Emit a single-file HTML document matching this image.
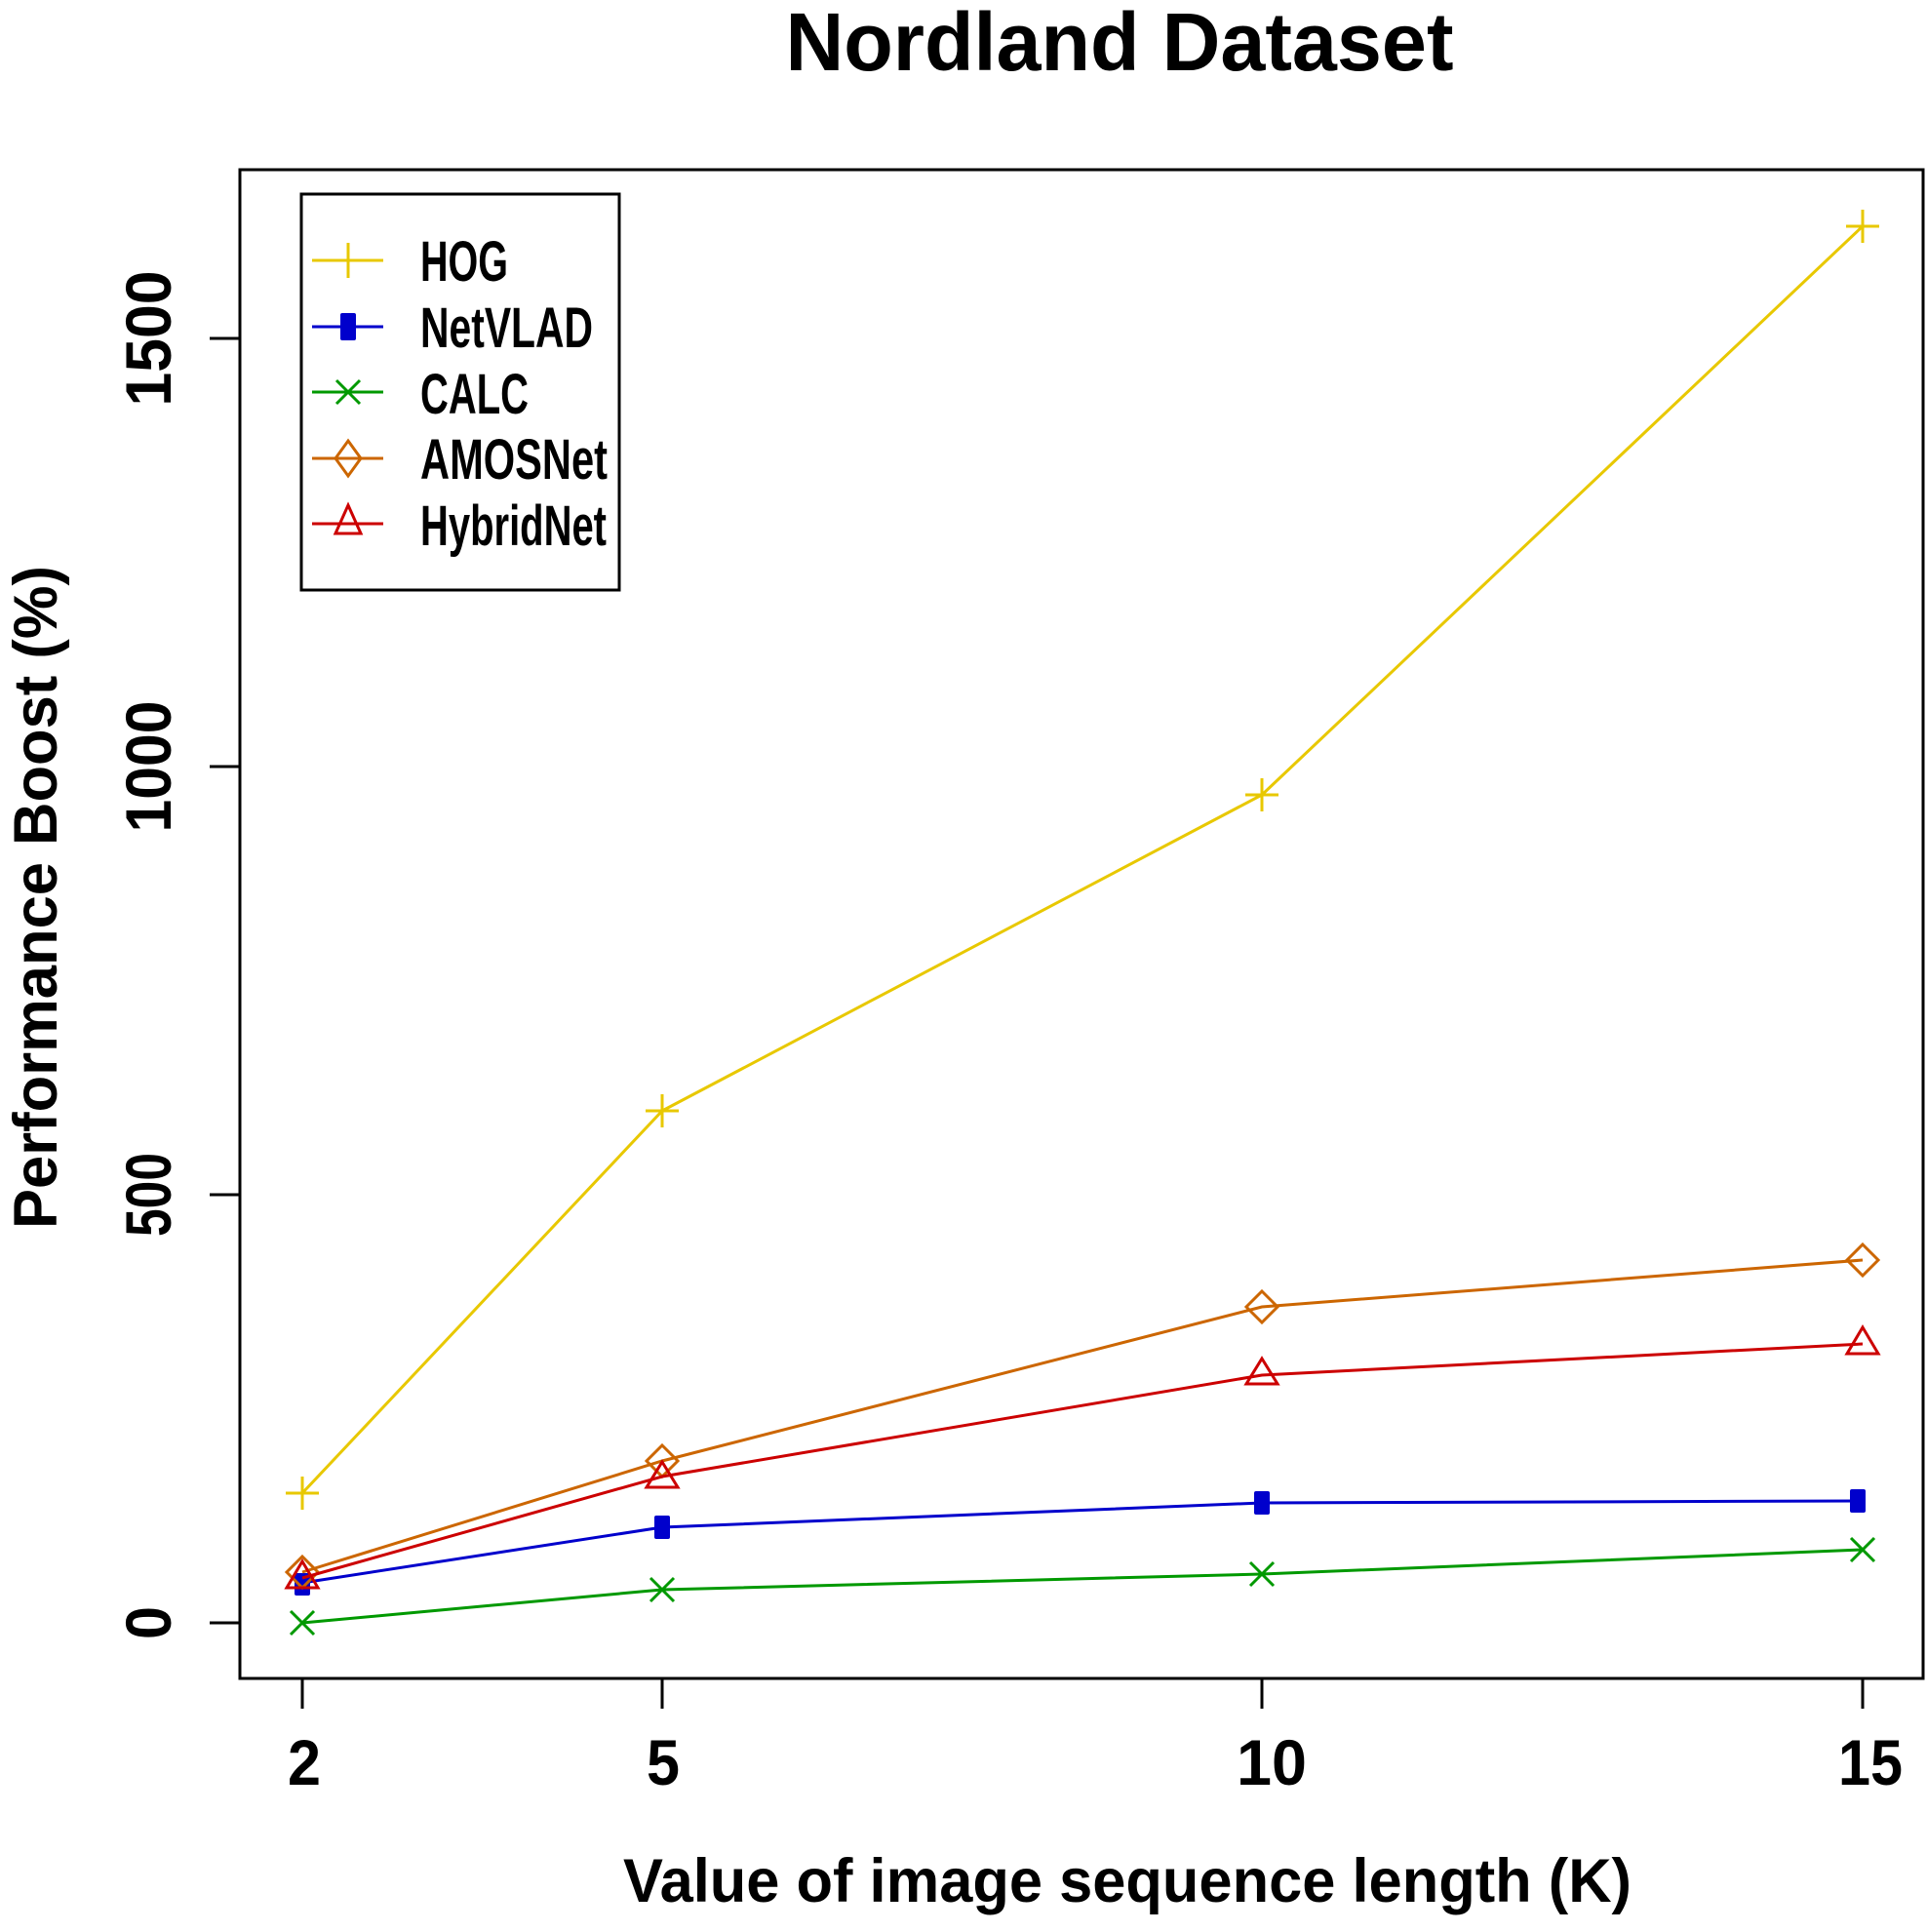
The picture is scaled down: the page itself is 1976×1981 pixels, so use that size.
<!DOCTYPE html>
<html><head><meta charset="utf-8"><style>
html,body{margin:0;padding:0;background:#fff;}
svg{display:block;}
text{font-family:"Liberation Sans",sans-serif;font-weight:bold;fill:#000;}
</style></head><body>
<svg width="1976" height="1981" viewBox="0 0 1976 1981" xmlns="http://www.w3.org/2000/svg">
<rect width="1976" height="1981" fill="#fff"/>
<!-- title -->
<text x="1148" y="72" font-size="84" text-anchor="middle" textLength="685" lengthAdjust="spacingAndGlyphs">Nordland Dataset</text>
<!-- plot box -->
<rect x="246" y="174" width="1726" height="1547" fill="none" stroke="#000" stroke-width="3"/>
<!-- y ticks -->
<g stroke="#000" stroke-width="3">
<line x1="215" y1="1664" x2="246" y2="1664"/>
<line x1="215" y1="1225" x2="246" y2="1225"/>
<line x1="215" y1="786" x2="246" y2="786"/>
<line x1="215" y1="347" x2="246" y2="347"/>
<line x1="310" y1="1721" x2="310" y2="1752"/>
<line x1="679" y1="1721" x2="679" y2="1752"/>
<line x1="1294" y1="1721" x2="1294" y2="1752"/>
<line x1="1910" y1="1721" x2="1910" y2="1752"/>
</g>
<!-- y tick labels -->
<g font-size="66" text-anchor="middle">
<text transform="translate(175,1664) rotate(-90)" x="0" y="0" textLength="34" lengthAdjust="spacingAndGlyphs">0</text>
<text transform="translate(175,1225) rotate(-90)" x="0" y="0" textLength="86" lengthAdjust="spacingAndGlyphs">500</text>
<text transform="translate(175,786) rotate(-90)" x="0" y="0" textLength="135" lengthAdjust="spacingAndGlyphs">1000</text>
<text transform="translate(175,347) rotate(-90)" x="0" y="0" textLength="139" lengthAdjust="spacingAndGlyphs">1500</text>
</g>
<!-- x tick labels -->
<g font-size="66" text-anchor="middle">
<text x="312" y="1830" textLength="34" lengthAdjust="spacingAndGlyphs">2</text>
<text x="680" y="1830" textLength="34" lengthAdjust="spacingAndGlyphs">5</text>
<text x="1304" y="1830" textLength="72" lengthAdjust="spacingAndGlyphs">10</text>
<text x="1918" y="1830" textLength="66" lengthAdjust="spacingAndGlyphs">15</text>
</g>
<!-- axis labels -->
<text x="1156" y="1950" font-size="63" text-anchor="middle" textLength="1034" lengthAdjust="spacingAndGlyphs">Value of image sequence length (K)</text>
<text transform="translate(58,920) rotate(-90)" font-size="63" text-anchor="middle" textLength="680" lengthAdjust="spacingAndGlyphs">Performance Boost (%)</text>

<!-- series -->
<g fill="none" stroke-width="3">
<!-- HOG -->
<polyline stroke="#e8c800" points="310,1531 679,1139 1294,815 1910,232"/>
<g stroke="#e8c800">
<path d="M293,1531h34M310,1514v34 M662,1139h34M679,1122v34 M1277,815h34M1294,798v34 M1893,232h34M1910,215v34"/>
</g>
<!-- NetVLAD -->
<polyline stroke="#0000cc" points="310,1623 679,1566 1294,1541 1910,1539"/>
<g fill="#0000cc" stroke="none">
<rect x="302" y="1613" width="16" height="23" rx="2"/>
<rect x="671" y="1554" width="16" height="24" rx="2"/>
<rect x="1286" y="1529" width="16" height="24" rx="2"/>
<rect x="1897" y="1527" width="16" height="24" rx="2"/>
</g>
<!-- CALC -->
<polyline stroke="#009900" points="310,1664 679,1630 1294,1614 1910,1589"/>
<g stroke="#009900">
<path d="M298,1652l24,24M322,1652l-24,24 M667,1618l24,24M691,1618l-24,24 M1282,1602l24,24M1306,1602l-24,24 M1898,1577l24,24M1922,1577l-24,24"/>
</g>
<!-- AMOSNet -->
<polyline stroke="#cc6600" points="310,1612 679,1498 1294,1340 1910,1292"/>
<g stroke="#cc6600">
<path d="M310,1596l16,16l-16,16l-16,-16z M679,1482l16,16l-16,16l-16,-16z M1294,1324l16,16l-16,16l-16,-16z M1910,1276l16,16l-16,16l-16,-16z"/>
</g>
<!-- HybridNet -->
<polyline stroke="#cc0000" points="310,1618 679,1514 1294,1410 1910,1378"/>
<g stroke="#cc0000">
<path d="M310,1601l16,27h-32z M679,1499l16,26h-32z M1294,1393l16,26h-32z M1910,1361l16,27h-32z"/>
</g>
</g>

<!-- legend -->
<rect x="309" y="199" width="326" height="406" fill="#fff" stroke="#000" stroke-width="3"/>
<g fill="none" stroke-width="3">
<path stroke="#e8c800" d="M320,267h73M357,249v36"/>
<path stroke="#0000cc" d="M320,335h73"/>
<rect x="349" y="321" width="16" height="28" rx="2" fill="#0000cc" stroke="none"/>
<path stroke="#009900" d="M320,402h73M345,390l24,24M369,390l-24,24"/>
<path stroke="#cc6600" d="M320,470h73M357,452l13,18l-13,18l-13,-18z"/>
<path stroke="#cc0000" d="M320,537h73M357,518l13,29h-26z"/>
</g>
<g font-size="58">
<text x="431" y="288" textLength="90" lengthAdjust="spacingAndGlyphs">HOG</text>
<text x="431" y="356" textLength="177" lengthAdjust="spacingAndGlyphs">NetVLAD</text>
<text x="431" y="424" textLength="111" lengthAdjust="spacingAndGlyphs">CALC</text>
<text x="431" y="491" textLength="192" lengthAdjust="spacingAndGlyphs">AMOSNet</text>
<text x="431" y="559" textLength="191" lengthAdjust="spacingAndGlyphs">HybridNet</text>
</g>
</svg>
</body></html>
